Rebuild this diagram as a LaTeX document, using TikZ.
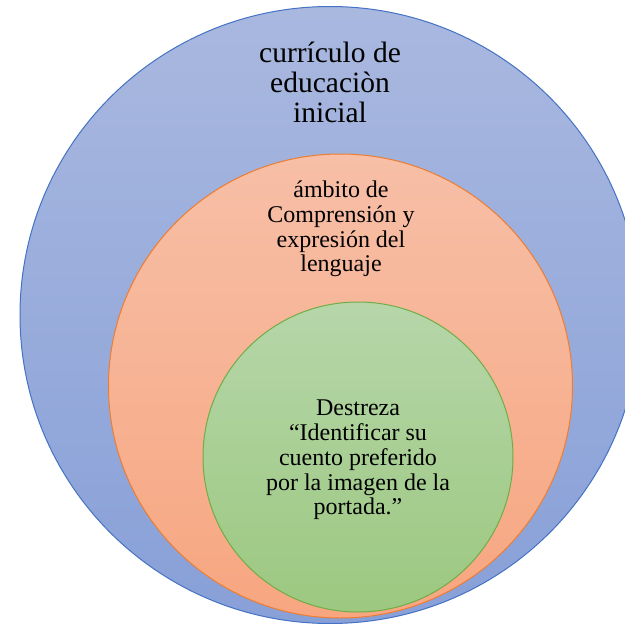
\documentclass[tikz,border=0pt]{standalone}
\usepackage{fontspec}
\usetikzlibrary{shapes.geometric}
\setmainfont{Liberation Serif}
\tikzset{
  disc/.style={circle,inner sep=0pt,line width=1pt,shading angle=0},
  bigtxt/.style={align=center,font=\fontsize{29.5}{30}\selectfont,inner sep=0pt,anchor=north},
  midtxt/.style={align=center,font=\fontsize{24}{24.7}\selectfont,inner sep=0pt,anchor=north},
}
\definecolor{bluetop}{HTML}{A9B8DF}
\definecolor{bluebot}{HTML}{88A0D8}
\definecolor{blueln}{HTML}{4472C4}
\definecolor{orgtop}{HTML}{F7BFA7}
\definecolor{orgbot}{HTML}{F7A680}
\definecolor{orgln}{HTML}{ED7D31}
\definecolor{grntop}{HTML}{B6D6A9}
\definecolor{grnbot}{HTML}{9CC880}
\definecolor{grnln}{HTML}{70AD47}
\begin{document}
\begin{tikzpicture}[x=1pt,y=-1pt]
\useasboundingbox (0,0) rectangle (625,624);
\clip (0,0) rectangle (625,624);
\node[disc,ellipse,draw=blueln,top color=bluetop,bottom color=bluebot,minimum width=620pt,minimum height=617pt] (outer) at (330,315) {};
\node[disc,draw=orgln,top color=orgtop,bottom color=orgbot,minimum size=464pt] (middle) at (340.5,386) {};
\node[disc,draw=grnln,top color=grntop,bottom color=grnbot,minimum size=310pt] (inner) at (358,457) {};
\node[bigtxt] (t1) at (330,41.5) {currículo de\\educaciòn\\inicial};
\node[midtxt] (t2) at (341,181) {ámbito de\\Comprensión y\\expresión del\\lenguaje};
\node[midtxt] (t3) at (358,400) {Destreza\\“Identificar su\\cuento preferido\\por la imagen de la\\portada.”};
\end{tikzpicture}
\end{document}
